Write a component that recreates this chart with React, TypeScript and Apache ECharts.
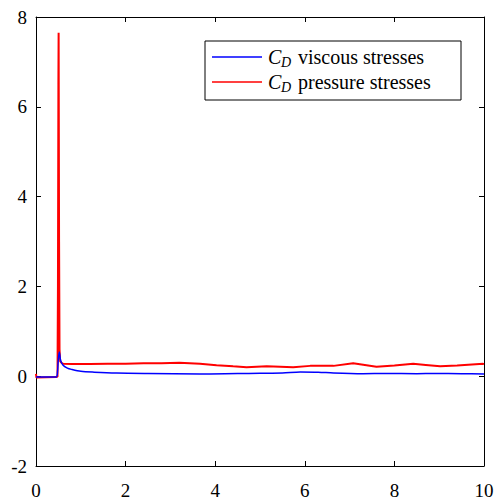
import React, { useEffect, useRef } from "react";
import * as echarts from "echarts";

const xTicks = [0, 2, 4, 6, 8, 10];
const yTicks = [-2, 0, 2, 4, 6, 8];

const pressureX = [0, 0.01, 0.02, 0.45, 0.48, 0.49, 0.5, 0.505, 0.515, 0.525, 0.54, 0.57, 0.6, 0.8, 1.2, 1.6, 2.0, 2.4, 2.8, 3.2, 3.66, 4.03, 4.4, 4.7, 5.15, 5.45, 5.74, 6.12, 6.64, 7.08, 7.6, 8.0, 8.42, 8.7, 9.02, 9.4, 9.98, 10];
const pressureY = [0.05, -0.03, -0.02, -0.02, -0.01, 2.0, 6.5, 7.65, 3.0, 0.6, 0.33, 0.3, 0.28, 0.27, 0.27, 0.28, 0.28, 0.29, 0.29, 0.3, 0.275, 0.245, 0.22, 0.2, 0.22, 0.21, 0.2, 0.23, 0.23, 0.29, 0.21, 0.24, 0.275, 0.25, 0.22, 0.24, 0.275, 0.27];

const viscousX = [0, 0.45, 0.48, 0.5, 0.52, 0.55, 0.6, 0.7, 0.8, 1.0, 1.3, 1.8, 2.5, 3.66, 4.5, 5.0, 5.5, 5.9, 6.3, 6.64, 7.3, 7.8, 8.5, 8.9, 9.5, 10];
const viscousY = [-0.02, -0.02, 0.1, 0.4, 0.54, 0.35, 0.25, 0.18, 0.15, 0.11, 0.09, 0.07, 0.06, 0.05, 0.06, 0.065, 0.07, 0.095, 0.09, 0.07, 0.055, 0.06, 0.055, 0.06, 0.055, 0.05];

const seriesNames = ["viscous stresses", "pressure stresses"];
const seriesColors = ["#0000ff", "#ff0000"];

const FONT = "Liberation Serif";

export default function App() {
  const ref = useRef<HTMLDivElement>(null);
  useEffect(() => {
    const chart = echarts.init(ref.current!, null, { renderer: "svg" });
    const zip = (xs: number[], ys: number[]) => xs.map((x, i) => [x, ys[i]]);
    const axisCommon = {
      type: "value" as const,
      axisLine: { show: true, onZero: false, lineStyle: { color: "#000", width: 1 } },
      axisTick: { show: true, inside: true, length: 5, lineStyle: { color: "#000", width: 1 } },
      axisLabel: { show: false },
      splitLine: { show: false },
    };
    chart.setOption({
      animation: false,
      backgroundColor: "#fff",
      grid: { left: 36, right: 11, top: 17, bottom: 36, containLabel: false },
      xAxis: [
        { ...axisCommon, min: 0, max: 10, interval: 2, position: "bottom" },
        { ...axisCommon, min: 0, max: 10, interval: 2, position: "top" },
      ],
      yAxis: [
        { ...axisCommon, min: -2, max: 8, interval: 2, position: "left" },
        { ...axisCommon, min: -2, max: 8, interval: 2, position: "right" },
      ],
      series: [
        {
          name: seriesNames[0],
          type: "line",
          data: zip(viscousX, viscousY),
          showSymbol: false,
          symbol: "none",
          lineStyle: { color: seriesColors[0], width: 1.5 },
          itemStyle: { color: seriesColors[0] },
          smooth: 0.3,
          z: 3,
        },
        {
          name: seriesNames[1],
          type: "line",
          data: zip(pressureX, pressureY),
          showSymbol: false,
          symbol: "none",
          lineStyle: { color: seriesColors[1], width: 2 },
          itemStyle: { color: seriesColors[1] },
          z: 2,
        },
      ],
    });

    const px = (x: number, y: number) =>
      chart.convertToPixel({ xAxisIndex: 0, yAxisIndex: 0 }, [x, y]) as number[];
    const graphics: any[] = [];
    xTicks.forEach((v) => {
      const p = px(v, -2);
      graphics.push({
        type: "text",
        x: p[0],
        y: p[1] + 24,
        style: { text: String(v), font: "19px " + FONT, fill: "#000", textAlign: "center", textVerticalAlign: "middle" },
      });
    });
    yTicks.forEach((v) => {
      const p = px(0, v);
      graphics.push({
        type: "text",
        x: p[0] - 9,
        y: p[1],
        style: { text: String(v), font: "19px " + FONT, fill: "#000", textAlign: "right", textVerticalAlign: "middle" },
      });
    });
    // legend
    const lx = 205, ly = 41, lw = 256, lh = 59;
    graphics.push({
      type: "rect",
      shape: { x: lx, y: ly, width: lw, height: lh },
      style: { fill: "#fff", stroke: "#000", lineWidth: 1 },
      z: 10,
    });
    seriesNames.forEach((name, i) => {
      const cy = ly + 16 + i * 25;
      graphics.push({
        type: "line",
        shape: { x1: lx + 7, y1: cy, x2: lx + 57, y2: cy },
        style: { stroke: seriesColors[i], lineWidth: 1.5 },
        z: 11,
      });
      graphics.push({
        type: "text",
        x: lx + 63,
        y: cy,
        style: { text: "C", font: "italic 20px " + FONT, fill: "#000", textVerticalAlign: "middle" },
        z: 11,
      });
      graphics.push({
        type: "text",
        x: lx + 76,
        y: cy + 5,
        style: { text: "D", font: "italic 14px " + FONT, fill: "#000", textVerticalAlign: "middle" },
        z: 11,
      });
      graphics.push({
        type: "text",
        x: lx + 93,
        y: cy,
        style: { text: name, font: "20px " + FONT, fill: "#000", textVerticalAlign: "middle" },
        z: 11,
      });
    });
    chart.setOption({ graphic: graphics });
    return () => chart.dispose();
  }, []);
  return (
    <div
      ref={ref}
      style={{ position: "fixed", left: 0, top: 0, width: 495, height: 502 }}
    />
  );
}
